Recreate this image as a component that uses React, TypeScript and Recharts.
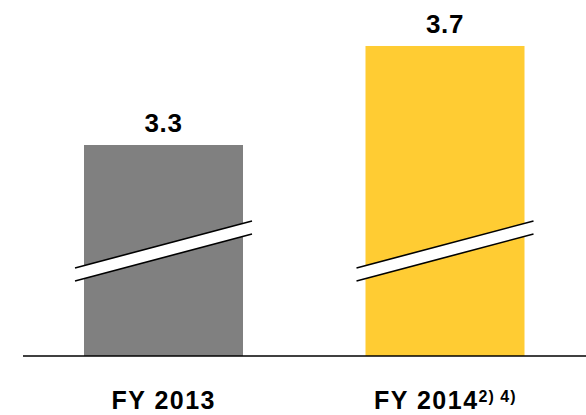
import { Bar, BarChart, Cell, LabelList, XAxis, YAxis } from "recharts";

const categories = ["FY 2013", "FY 2014"];
const values = [3.3, 3.7];
const footnotes = ["", "2) 4)"];

const BAR_COLORS = ["#808080", "#FFCC33"];
const FONT = "Arial, 'Liberation Sans', Helvetica, sans-serif";

const data = categories.map((name, i) => ({
  name,
  value: values[i],
  note: footnotes[i],
}));

// axis is broken, so the scale starts well above zero
const Y_DOMAIN = [2.4475, 3.805];

function BrokenBar(props: any) {
  const { x, y, width, height, fill } = props;
  const base = y + height;
  const x1 = x - 9;
  const x2 = x + width + 9;
  const yl = base - 88;
  const yr = base - 135;
  const gap = 13;
  return (
    <g>
      <rect x={x} y={y} width={width} height={height} fill={fill} />
      <polygon
        points={`${x1},${yl} ${x2},${yr} ${x2},${yr + gap} ${x1},${yl + gap}`}
        fill="#fff"
      />
      <line x1={x1} y1={yl} x2={x2} y2={yr} stroke="#000" strokeWidth={1.6} />
      <line
        x1={x1}
        y1={yl + gap}
        x2={x2}
        y2={yr + gap}
        stroke="#000"
        strokeWidth={1.6}
      />
    </g>
  );
}

function ValueLabel(props: any) {
  const { x, y, width, value } = props;
  return (
    <text
      x={x + width / 2}
      y={y - 13}
      textAnchor="middle"
      fontFamily={FONT}
      fontWeight="bold"
      fontSize={26}
      letterSpacing={0.7}
      fill="#000"
    >
      {String(value)}
    </text>
  );
}

function CategoryTick(props: any) {
  const { x, y, payload, index } = props;
  const note = footnotes[index] ?? "";
  return (
    <text
      x={x}
      y={y + 53}
      textAnchor="middle"
      fontFamily={FONT}
      fontWeight="bold"
      fontSize={25}
      letterSpacing={1.5}
      fill="#000"
    >
      {payload.value}
      {note && (
        <tspan fontSize={16} letterSpacing={1} dy={-7}>
          {note}
        </tspan>
      )}
    </text>
  );
}

export default function App() {
  return (
    <div style={{ position: "absolute", left: 0, top: 0, background: "#fff" }}>
      <BarChart
        width={586}
        height={415}
        data={data}
        margin={{ top: 20, right: 0, bottom: 0, left: 23 }}
        barSize={159}
      >
        <XAxis
          dataKey="name"
          height={59}
          tickLine={false}
          tickSize={0}
          tickMargin={0}
          axisLine={{ stroke: "#000", strokeWidth: 1.6 }}
          tick={<CategoryTick />}
          interval={0}
        />
        <YAxis hide domain={Y_DOMAIN} allowDataOverflow />
        <Bar
          dataKey="value"
          isAnimationActive={false}
          shape={<BrokenBar />}
        >
          {data.map((d, i) => (
            <Cell key={d.name} fill={BAR_COLORS[i]} />
          ))}
          <LabelList dataKey="value" content={<ValueLabel />} />
        </Bar>
      </BarChart>
    </div>
  );
}
